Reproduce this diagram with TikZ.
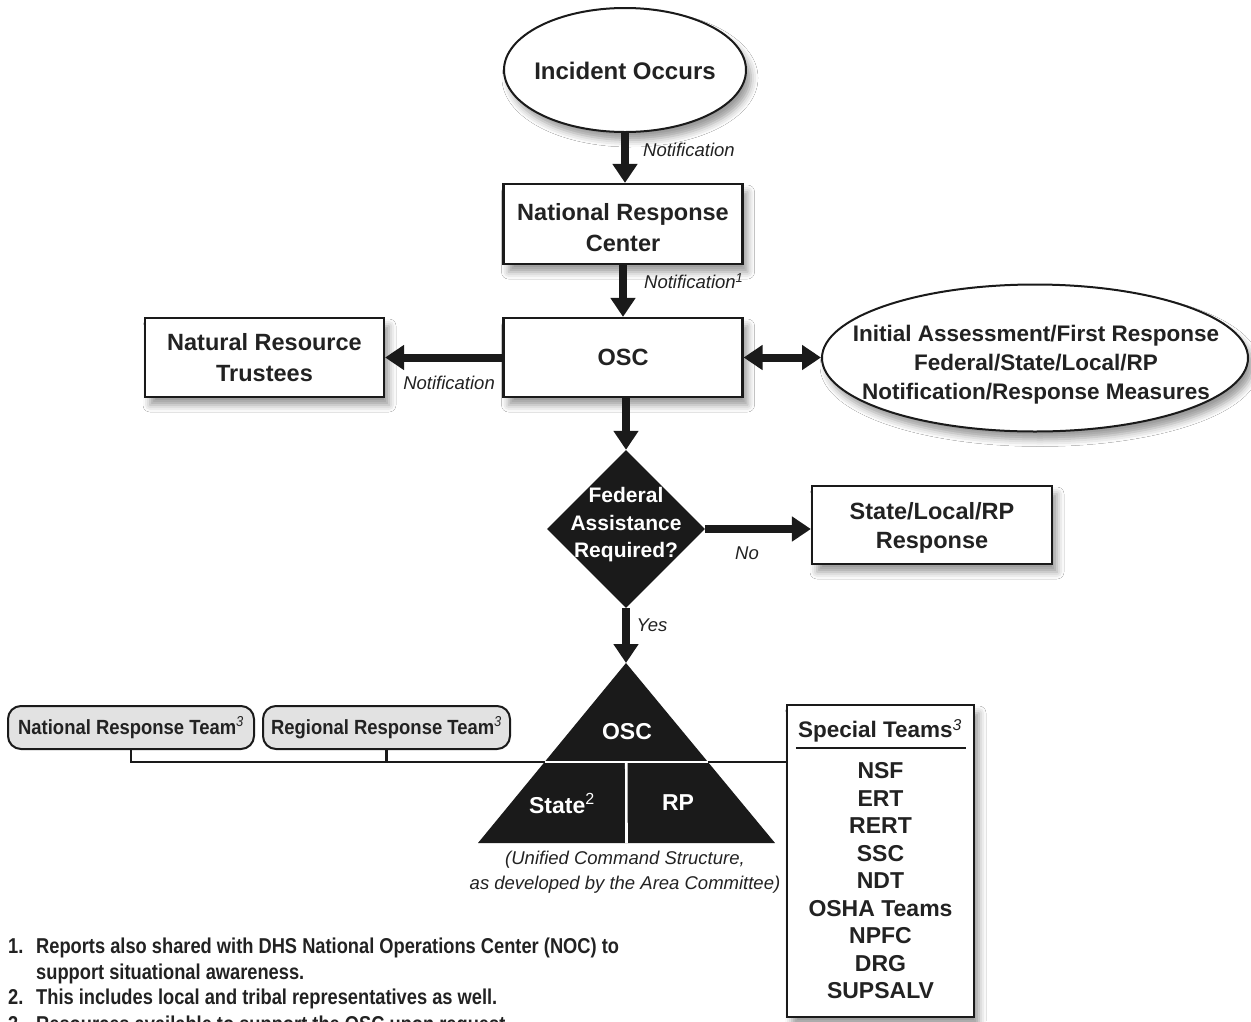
\documentclass[tikz,border=0pt]{standalone}
\usepackage{fontspec}
\setmainfont{Liberation Sans}
\newfontfamily\narrowfont{Liberation Sans}[FakeStretch=0.85]
\newfontfamily\semifont{Liberation Sans}[FakeStretch=0.9]
\usetikzlibrary{arrows.meta,shapes.geometric,shadows.blur,calc}
\definecolor{ink}{HTML}{1A1A1A}
\definecolor{txt}{HTML}{222222}
\definecolor{pillgray}{HTML}{E2E2E2}
\newcommand{\supn}[1]{\textsuperscript{\mdseries\itshape #1}}
\tikzset{
  shdw/.style={blur shadow={shadow xshift=5pt, shadow yshift=-8pt, shadow blur radius=7pt, shadow opacity=40}},
  box/.style={draw=ink, line width=2.2pt, fill=white, inner sep=0pt, align=center,
    font=\bfseries\fontsize{23.5}{31}\selectfont, text=txt, shdw},
  ell/.style={draw=ink, line width=2pt, fill=white, ellipse, inner sep=0pt, align=center, text=txt, shdw},
  flow/.style={draw=ink, line width=8pt, -{Triangle[width=24pt,length=19pt]}},
  flow2/.style={draw=ink, line width=8pt, {Triangle[width=24pt,length=19pt]}-{Triangle[width=24pt,length=19pt]}},
  lab/.style={font=\itshape\fontsize{18.5}{21}\selectfont, text=txt, inner sep=0pt},
  wtxt/.style={text=white, font=\bfseries\fontsize{23}{28}\selectfont, inner sep=0pt, align=center},
  btxt/.style={text=txt, inner sep=0pt, align=center},
  pill/.style={draw=ink, line width=2pt, fill=pillgray, rounded corners=13pt, minimum height=43pt,
    inner sep=0pt, font=\semifont\bfseries\fontsize{20.5}{24}\selectfont, text=txt},
  conn/.style={draw=ink, line width=2.4pt},
  teams/.style={font=\bfseries\fontsize{23}{27.5}\selectfont, text=txt, inner sep=0pt, align=center},
  foot/.style={font=\narrowfont\bfseries\fontsize{21.5}{25.5}\selectfont, text=txt, inner sep=0pt, anchor=base west},
}
\begin{document}
\begin{tikzpicture}[x=1pt,y=-1pt]
\useasboundingbox[fill=white] (0,0) rectangle (1251,1021);

% main nodes
\node[ell, minimum width=242pt, minimum height=124pt] (inc) at (625,70) {};
\node[btxt, font=\bfseries\fontsize{24}{29}\selectfont] (inct) at (625,71) {Incident Occurs};
\node[box, minimum width=239pt, minimum height=80pt] (nrc) at (623,224) {};
\node[btxt, font=\bfseries\fontsize{23.5}{31}\selectfont] (nrct) at (623,228) {National Response\\Center};
\node[box, minimum width=239pt, minimum height=79pt] (osc) at (623,357.5) {OSC};
\node[box, minimum width=239pt, minimum height=79pt] (nrt) at (264.5,357.5) {Natural Resource\\Trustees};
\node[ell, minimum width=426pt, minimum height=147pt] (ia) at (1035,358) {};
\node[btxt, font=\bfseries\fontsize{22.5}{29}\selectfont] (iat) at (1036,365)
  {Initial Assessment/First Response\\Federal/State/Local/RP\\Notification/Response Measures};
\node[diamond, fill=ink, minimum width=158pt, minimum height=158pt, inner sep=0pt] (dia) at (626,529) {};
\node[wtxt, font=\bfseries\fontsize{21}{27.5}\selectfont] (diat) at (626,525) {Federal\\Assistance\\Required?};
\node[box, minimum width=240pt, minimum height=78pt] (slrp) at (932,525) {};
\node[btxt, font=\bfseries\fontsize{23.5}{29}\selectfont] (slrpt) at (932,528) {State/Local/RP\\Response};

% arrows
\draw[flow] (inc.south) -- (inc.south |- nrc.north);
\draw[flow] (nrc.south) -- (osc.north);
\draw[flow] (osc.west) -- (nrt.east);
\draw[flow2] (osc.east) -- (osc.east -| ia.west);
\draw[flow] (dia.north |- osc.south) -- (dia.north);
\draw[flow] (dia.east) -- (dia.east -| slrp.west);

% labels
\node[lab, anchor=west] (l1) at (643,150) {Notification};
\node[lab, anchor=west] (l2) at (644,281) {Notification\supn{1}};
\node[lab, anchor=east] (l3) at (495,383) {Notification};
\node[lab] (lno) at (747,553) {No};
\node[lab] (lyes) at (652,625) {Yes};

% response teams and connector
\node[pill, minimum width=246pt] (natrt) at (131,727.5) {National Response Team\supn{3}};
\node[pill, minimum width=247pt] (regrt) at (386.5,727.5) {Regional Response Team\supn{3}};
\node[draw=ink, line width=2.2pt, fill=white, minimum width=187pt, minimum height=312pt, inner sep=0pt, shdw] (spec) at (880.5,861) {};
\coordinate (jn) at (spec.west |- 0,762);
\draw[conn] (natrt.south) |- (jn);
\draw[conn] (regrt.south) -- (regrt.south |- jn);

% unified command triangle
\coordinate (apex) at (626,663);
\coordinate (bl) at (478,843);
\coordinate (br) at (775,843);
\fill[ink] (apex) -- (bl) -- (br) -- cycle;
\draw[flow] (dia.south) -- (apex);
\coordinate (tl) at ($(apex)!0.55!(bl)$);
\coordinate (tr) at ($(apex)!0.55!(br)$);
\draw[white, line width=2.6pt] (tl) -- (tr);
\draw[white, line width=2.6pt] ($(tl)!0.5!(tr)$) -- ($(bl)!0.5!(br)$);
\node[wtxt] (tosc) at (627,732) {OSC};
\node[wtxt] (tstate) at (562,803) {State\textsuperscript{\mdseries 2}};
\node[wtxt] (trp) at (678,803) {RP};
\node[lab, align=center, font=\itshape\fontsize{18.5}{25}\selectfont] (cap) at (625,872.5) {(Unified Command Structure,\\as developed by the Area Committee)};

% special teams content
\node[teams, font=\bfseries\fontsize{22.5}{27}\selectfont] (sth) at (880,731) {Special Teams\supn{3}};
\draw[line width=2.4pt, draw=ink] ($(spec.north west)+(10,44)$) -- ($(spec.north east)+(-9,44)$);
\node[teams] (items) at (880.5,881) {NSF\\ERT\\RERT\\SSC\\NDT\\OSHA Teams\\NPFC\\DRG\\SUPSALV};

% footnotes
\node[foot] (f1n) at (8,953.5) {1.};
\node[foot] (f1) at (36,953.5) {Reports also shared with DHS National Operations Center (NOC) to};
\node[foot] (f1b) at (36,979) {support situational awareness.};
\node[foot] (f2n) at (8,1004.5) {2.};
\node[foot] (f2) at (36,1004.5) {This includes local and tribal representatives as well.};
\node[foot] (f3n) at (8,1031) {3.};
\node[foot] (f3) at (36,1031) {Resources available to support the OSC upon request.};
\end{tikzpicture}
\end{document}
